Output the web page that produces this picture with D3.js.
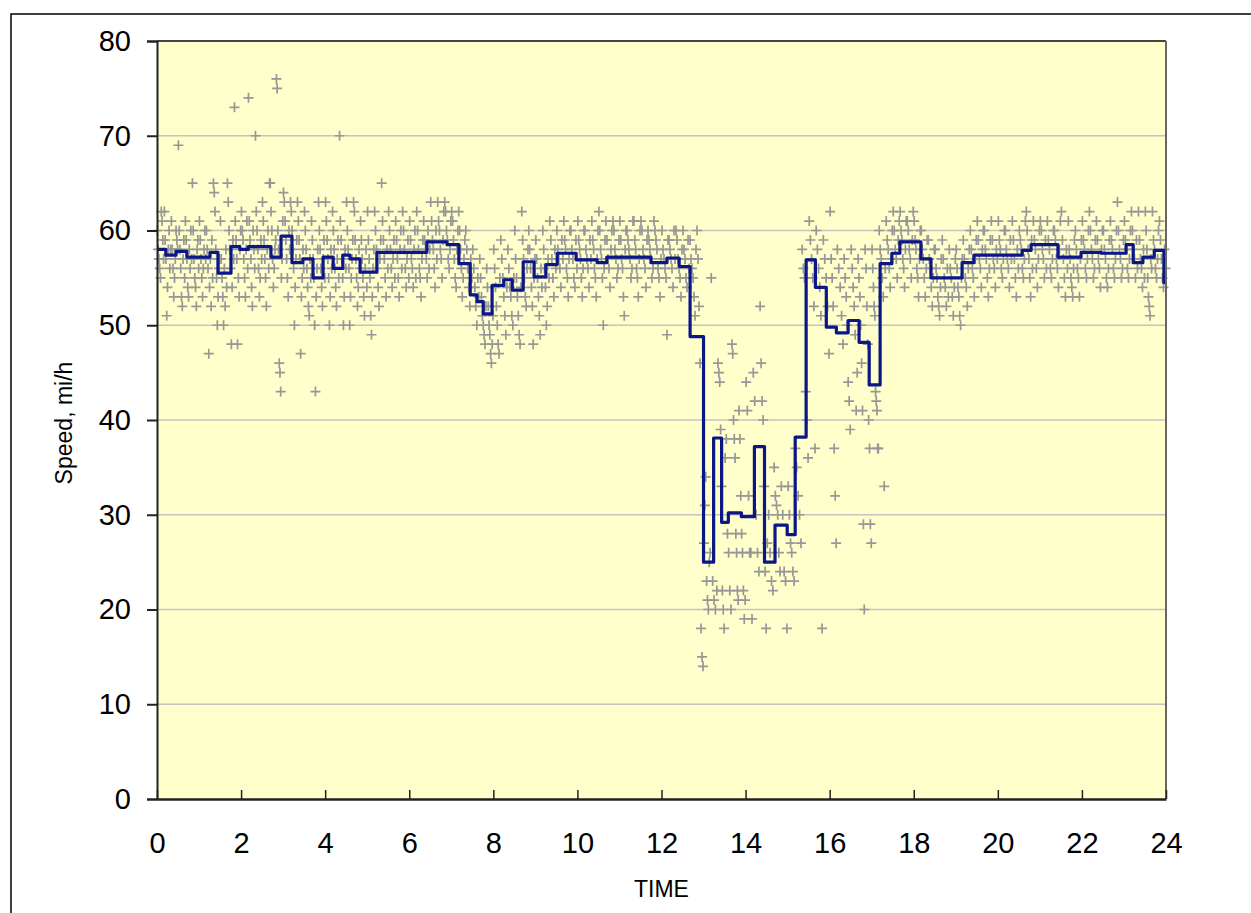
<!DOCTYPE html>
<html>
<head>
<meta charset="utf-8">
<script src="https://cdn.jsdelivr.net/npm/d3@7"></script>
<style>
  body { margin: 0; background: #fff; }
  text { font-family: Arial, "Liberation Sans", sans-serif; fill: #000; }
</style>
</head>
<body>
<div id="chart-area"></div>
<script>
// axis ticks
var xTicks = [0, 2, 4, 6, 8, 10, 12, 14, 16, 18, 20, 22, 24];
var yTicks = [0, 10, 20, 30, 40, 50, 60, 70, 80];

// smoothed speed (step line): time (h) where each level starts, and the level (mi/h)
var stepTimes = [0, 0.21, 0.45, 0.71, 1.26, 1.45, 1.76, 1.97, 2.17, 2.71, 2.95, 3.21, 3.47, 3.71, 3.95,
  4.19, 4.42, 4.59, 4.83, 5.23, 6.42, 6.9, 7.18, 7.45, 7.61, 7.76, 7.97, 8.25, 8.45, 8.71, 8.97,
  9.25, 9.52, 9.97, 10.47, 10.7, 11.75, 12.13, 12.42, 12.68, 13.0, 13.24, 13.43, 13.59, 13.9,
  14.21, 14.45, 14.7, 14.99, 15.18, 15.44, 15.66, 15.92, 16.16, 16.44, 16.7, 16.94, 17.2, 17.48,
  17.67, 18.17, 18.41, 19.15, 19.43, 20.58, 20.79, 21.43, 21.98, 22.46, 23.05, 23.22, 23.45, 23.72, 23.95];
var stepSpeeds = [58.0, 57.4, 57.8, 57.2, 57.7, 55.5, 58.3, 58.0, 58.3, 57.2, 59.4, 56.6, 57.0, 55.0, 57.2,
  56.0, 57.4, 57.0, 55.6, 57.7, 58.8, 58.5, 56.5, 53.2, 52.5, 51.2, 54.2, 54.8, 53.7, 56.7, 55.1,
  56.4, 57.6, 56.9, 56.6, 57.2, 56.6, 57.1, 56.2, 48.8, 25.0, 38.1, 29.2, 30.2, 29.8,
  37.2, 25.0, 28.9, 27.9, 38.2, 56.9, 54.0, 49.8, 49.2, 50.5, 48.2, 43.7, 56.5, 57.6,
  58.8, 57.0, 55.0, 56.6, 57.4, 57.9, 58.5, 57.2, 57.7, 57.6, 58.5, 56.6, 57.2, 57.9, 54.5];

// individual speed observations (mi/h), one list per 10-minute slot
var slotMinutes = 10;
var speedsBySlot = [
  // 0h
  [60, 58, 57, 56, 55, 62, 61, 59, 57], [62, 59, 57, 51, 54, 58, 60, 56, 58], [61, 58, 56, 53, 55, 57, 60, 59, 58],
  [69, 60, 58, 56, 53, 52, 57, 59, 55], [61, 59, 57, 54, 53, 58, 56, 60, 57], [65, 60, 57, 55, 54, 52, 58, 59, 56],
  // 1h
  [61, 59, 57, 55, 53, 56, 58, 60, 57], [60, 58, 56, 47, 54, 57, 52, 59, 55], [65, 64, 62, 58, 55, 50, 53, 56, 57],
  [61, 57, 55, 53, 50, 56, 52, 58, 54], [65, 63, 60, 58, 56, 48, 54, 59, 57], [73, 61, 59, 57, 48, 55, 53, 58, 60],
  // 2h
  [62, 60, 59, 57, 55, 53, 58, 61, 56], [74, 61, 59, 57, 54, 52, 60, 58, 56], [70, 62, 60, 58, 56, 53, 55, 59, 57],
  [63, 61, 59, 57, 55, 52, 58, 60, 56], [65, 65, 62, 60, 57, 54, 56, 58, 59], [76, 75, 60, 58, 46, 45, 43, 55, 57, 61],
  // 3h
  [64, 63, 61, 59, 57, 55, 53, 60, 58], [63, 62, 60, 58, 56, 50, 54, 57, 59], [63, 61, 59, 57, 47, 53, 55, 58, 56],
  [62, 60, 58, 56, 54, 52, 51, 57, 55], [61, 59, 57, 55, 50, 43, 53, 56, 58], [63, 60, 58, 56, 54, 52, 57, 59, 55],
  // 4h
  [63, 61, 59, 57, 55, 50, 53, 58, 56], [62, 60, 58, 56, 54, 52, 57, 59, 55], [70, 61, 59, 57, 55, 50, 53, 58, 56],
  [63, 60, 58, 56, 50, 53, 55, 57, 59], [63, 62, 59, 57, 55, 52, 54, 58, 56], [61, 59, 57, 55, 53, 51, 56, 58, 54],
  // 5h
  [62, 59, 57, 55, 51, 49, 53, 56, 58], [62, 60, 58, 56, 54, 52, 57, 59], [65, 61, 59, 57, 55, 53, 58, 56],
  [62, 60, 58, 56, 54, 57, 59, 55], [61, 59, 57, 55, 53, 58, 60, 56], [62, 60, 58, 56, 54, 57, 59, 55],
  // 6h
  [61, 59, 57, 56, 54, 58, 60, 55], [62, 60, 58, 56, 55, 53, 57, 59], [61, 59, 58, 57, 55, 60, 56, 58],
  [63, 61, 59, 58, 56, 54, 60, 57], [63, 61, 60, 58, 57, 55, 59, 62], [63, 62, 60, 59, 57, 56, 58, 61],
  // 7h
  [62, 61, 59, 57, 55, 54, 58, 60], [62, 60, 58, 56, 53, 55, 57, 59], [60, 58, 56, 54, 52, 57, 55],
  [58, 56, 54, 52, 50, 55, 53], [57, 55, 53, 51, 50, 49, 48, 52], [56, 54, 52, 50, 49, 47, 46, 48, 51],
  // 8h
  [58, 56, 54, 52, 50, 48, 47, 55], [59, 57, 55, 53, 51, 49, 54], [58, 56, 54, 53, 51, 50, 55],
  [60, 57, 55, 53, 51, 49, 48, 54], [62, 59, 57, 55, 53, 52, 56, 58], [60, 58, 56, 54, 52, 48, 55, 57],
  // 9h
  [59, 57, 55, 53, 51, 49, 56, 54], [60, 58, 56, 54, 50, 52, 57, 55], [61, 59, 57, 55, 53, 58, 56],
  [60, 58, 57, 56, 54, 59, 57], [61, 59, 58, 56, 55, 53, 57, 60], [60, 58, 57, 55, 54, 59, 56],
  // 10h
  [61, 59, 58, 57, 55, 53, 56, 60], [60, 58, 57, 56, 54, 59, 57], [61, 59, 58, 56, 55, 53, 57, 60],
  [62, 60, 58, 57, 55, 50, 56, 59], [61, 59, 57, 56, 54, 58, 60], [61, 60, 58, 57, 55, 56, 59],
  // 11h
  [61, 59, 57, 56, 53, 51, 58, 60], [60, 59, 58, 57, 55, 56, 61], [61, 59, 58, 56, 55, 53, 57, 60],
  [61, 60, 58, 57, 56, 54, 59], [60, 59, 58, 57, 55, 56, 61], [60, 59, 58, 56, 55, 53, 57],
  // 12h
  [60, 58, 57, 56, 55, 49, 59], [59, 58, 57, 56, 54, 60, 57], [60, 59, 57, 56, 55, 53, 58],
  [60, 58, 57, 55, 54, 59, 56], [59, 57, 56, 55, 53, 51, 58], [60, 57, 52, 46, 18, 15, 14],
  // 13h
  [27, 31, 34, 23, 21, 20, 25, 26], [55, 23, 21, 20, 22], [46, 45, 44, 39, 33, 22, 20, 18],
  [36, 38, 28, 26, 22, 20], [48, 47, 40, 38, 36, 28, 26, 22, 21], [41, 38, 32, 28, 26, 22, 19, 21],
  // 14h
  [44, 41, 32, 26, 26, 19], [45, 42, 30, 26, 24], [52, 46, 42, 40, 33, 24, 18],
  [27, 30, 26, 23, 22], [35, 32, 31, 30, 26, 24], [33, 30, 24, 23, 18],
  // 15h
  [33, 30, 27, 26, 24, 23], [37, 35, 32, 30, 27], [58, 56, 55, 43, 40, 36],
  [61, 59, 57, 55, 52, 37], [60, 58, 56, 54, 51, 18], [59, 57, 55, 52, 47],
  // 16h
  [62, 57, 55, 52, 37, 32, 27], [58, 56, 54, 51, 48], [57, 55, 53, 50, 44, 42, 39],
  [58, 56, 54, 52, 49, 41, 45], [57, 55, 53, 50, 46, 41, 29, 20], [58, 56, 52, 48, 40, 37, 29, 27],
  // 17h
  [58, 56, 54, 52, 51, 43, 42, 41, 37, 37], [60, 58, 57, 55, 53, 33, 56], [61, 59, 58, 56, 54, 57, 60],
  [62, 60, 58, 57, 55, 59, 61], [62, 60, 59, 57, 56, 54, 58, 61], [61, 60, 58, 57, 55, 59, 62],
  // 18h
  [61, 59, 58, 56, 55, 53, 57, 60], [60, 58, 57, 55, 53, 56, 59], [59, 57, 56, 54, 52, 55, 58],
  [58, 56, 55, 53, 52, 51, 54, 57], [59, 57, 55, 54, 52, 56, 53], [58, 56, 55, 53, 51, 54, 57],
  // 19h
  [58, 56, 54, 53, 51, 50, 55, 57], [59, 57, 55, 54, 52, 56, 58], [60, 58, 56, 55, 53, 57, 59],
  [61, 59, 57, 56, 54, 58, 60], [60, 58, 57, 55, 53, 56, 59], [61, 59, 57, 56, 54, 58, 57],
  // 20h
  [61, 59, 58, 56, 55, 57, 60], [60, 58, 57, 56, 54, 59, 57], [61, 59, 57, 55, 53, 58, 56],
  [60, 59, 58, 56, 55, 57, 61], [62, 60, 58, 57, 55, 53, 59, 56], [61, 59, 58, 56, 54, 57, 60],
  // 21h
  [61, 60, 58, 57, 55, 59, 56], [61, 59, 58, 56, 55, 57, 60], [60, 59, 57, 56, 54, 58, 61],
  [62, 59, 57, 55, 53, 58, 56], [61, 58, 57, 55, 54, 53, 56, 59], [60, 58, 56, 55, 53, 57, 59],
  // 22h
  [61, 59, 58, 56, 55, 57, 60], [62, 60, 58, 57, 55, 56, 59], [61, 59, 57, 56, 54, 58, 60],
  [60, 58, 57, 55, 54, 56, 59], [61, 59, 58, 56, 55, 57, 60], [63, 60, 58, 57, 55, 56, 59],
  // 23h
  [61, 59, 58, 56, 55, 57, 60], [62, 60, 58, 57, 55, 59, 56], [62, 59, 57, 56, 54, 58, 55],
  [62, 60, 58, 55, 53, 52, 51, 57, 56], [62, 59, 58, 56, 55, 57, 60], [61, 59, 57, 55, 54, 58, 56]
];

// layout
var margin = {left: 157, right: 85, top: 41, bottom: 114};
var fullW = 1251, fullH = 913;
var width = fullW - margin.left - margin.right;
var height = fullH - margin.top - margin.bottom;

var x = d3.scaleLinear().domain([0, 24]).range([0, width]);
var y = d3.scaleLinear().domain([0, 80]).range([height, 0]);

var svg = d3.select("#chart-area").append("svg")
    .attr("width", fullW)
    .attr("height", fullH);

// outer frame
svg.append("rect")
    .attr("x", 11).attr("y", 14)
    .attr("width", fullW + 20).attr("height", fullH + 20)
    .attr("fill", "none")
    .attr("stroke", "#000")
    .attr("stroke-width", 1.5);

var g = svg.append("g")
    .attr("transform", "translate(" + margin.left + "," + margin.top + ")");

// plot background
g.append("rect")
    .attr("width", width).attr("height", height)
    .attr("fill", "#ffffcc");

// gridlines
g.selectAll(".grid")
    .data(yTicks.filter(function(d){ return d > 0 && d < 80; }))
    .enter().append("line")
    .attr("class", "grid")
    .attr("x1", 0).attr("x2", width)
    .attr("y1", function(d){ return y(d); })
    .attr("y2", function(d){ return y(d); })
    .attr("stroke", "#c4c4c0")
    .attr("stroke-width", 1.5);

// flatten observations, spread across their slot
var points = [];
speedsBySlot.forEach(function(list, k){
    list.forEach(function(v, i){
        var t = (k * slotMinutes + (i + 0.5) * slotMinutes / list.length) / 60;
        points.push({t: t, v: v});
    });
});

g.append("g").selectAll("path")
    .data(points)
    .enter().append("path")
    .attr("d", "M-5,0H5M0,-5V5")
    .attr("transform", function(d){ return "translate(" + x(d.t) + "," + y(d.v) + ")"; })
    .attr("stroke", "#979797")
    .attr("stroke-width", 1.7)
    .attr("fill", "none");

// step line
var stepData = stepTimes.map(function(t, i){ return {t: t, v: stepSpeeds[i]}; });
stepData.push({t: 24, v: stepSpeeds[stepSpeeds.length - 1]});

var line = d3.line()
    .x(function(d){ return x(d.t); })
    .y(function(d){ return y(d.v); })
    .curve(d3.curveStepAfter);

g.append("path")
    .datum(stepData)
    .attr("d", line)
    .attr("fill", "none")
    .attr("stroke", "#0b1687")
    .attr("stroke-width", 3.2)
    .attr("stroke-linejoin", "round");

// plot border top / right
g.append("line")
    .attr("x1", 0).attr("x2", width).attr("y1", 0).attr("y2", 0)
    .attr("stroke", "#444").attr("stroke-width", 2);
g.append("line")
    .attr("x1", width).attr("x2", width).attr("y1", 0).attr("y2", height)
    .attr("stroke", "#666").attr("stroke-width", 2);

// y axis
var leftAxis = d3.axisLeft(y).tickValues(yTicks).tickSize(10).tickPadding(16);
var yAxis = g.append("g").attr("class", "y-axis").call(leftAxis);
yAxis.select(".domain").attr("stroke", "#222").attr("stroke-width", 2);
yAxis.selectAll(".tick line").attr("stroke", "#222").attr("stroke-width", 2);
yAxis.selectAll("text").attr("font-size", "29px")
    .attr("font-family", "Arial, 'Liberation Sans', sans-serif");

// x axis, ticks pointing inward
var bottomAxis = d3.axisBottom(x).tickValues(xTicks).tickSize(-9).tickSizeOuter(0).tickPadding(33);
var xAxis = g.append("g").attr("class", "x-axis")
    .attr("transform", "translate(0," + height + ")")
    .call(bottomAxis);
xAxis.select(".domain").attr("stroke", "#222").attr("stroke-width", 2.5);
xAxis.selectAll(".tick line").attr("stroke", "#222").attr("stroke-width", 1.5);
xAxis.selectAll("text").attr("font-size", "29px")
    .attr("font-family", "Arial, 'Liberation Sans', sans-serif");

// axis labels
g.append("text")
    .attr("transform", "rotate(-90)")
    .attr("x", -382)
    .attr("y", -85)
    .attr("text-anchor", "middle")
    .attr("font-size", "23px")
    .text("Speed, mi/h");

g.append("text")
    .attr("x", width / 2)
    .attr("y", height + 98)
    .attr("text-anchor", "middle")
    .attr("font-size", "23px")
    .text("TIME");
</script>
</body>
</html>
